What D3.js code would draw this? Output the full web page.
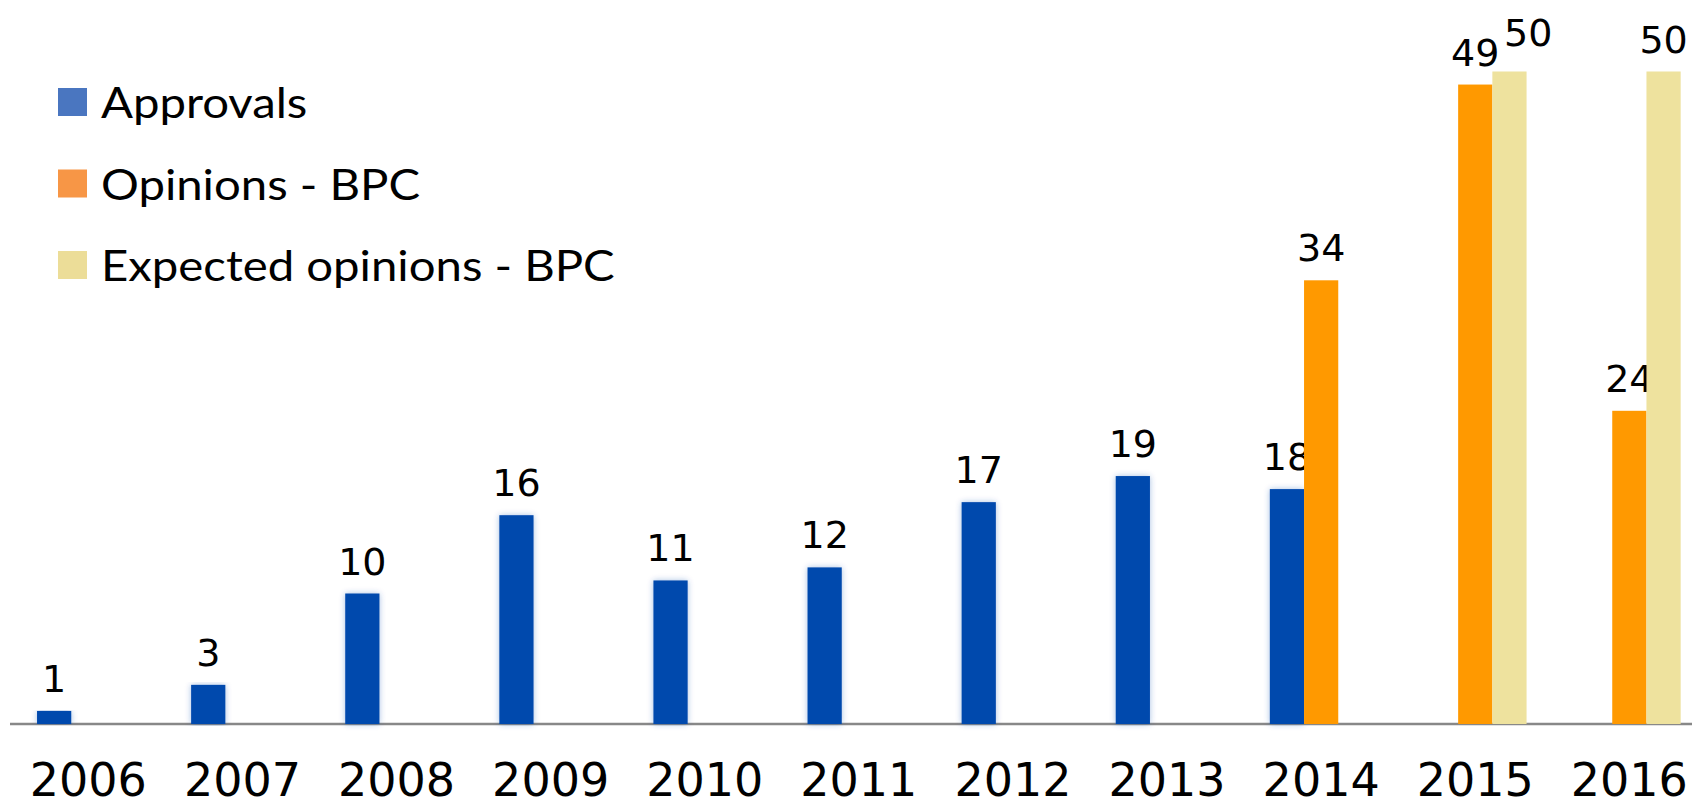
<!DOCTYPE html>
<html><head><meta charset="utf-8">
<script src="https://cdn.jsdelivr.net/npm/d3@7"></script>
<style>html,body{margin:0;padding:0;background:#fff;overflow:hidden}</style>
</head><body>
<svg id="chart" width="1692" height="808"></svg>
<script>
const years = ["2006","2007","2008","2009","2010","2011","2012","2013","2014","2015","2016"];
const approvals = [1,3,10,16,11,12,17,19,18,null,null];
const opinionsBPC = [null,null,null,null,null,null,null,null,34,49,24];
const expectedBPC = [null,null,null,null,null,null,null,null,null,50,50];
const seriesNames = ["Approvals","Opinions - BPC","Expected opinions - BPC"];
const barColors = ["#0248AD","#FF9900","#EEE29E"];
const legendColors = ["#4A76C0","#F79646","#ECDD98"];

const W = 1692, H = 808;
const svg = d3.select("#chart");
const defs = svg.append("defs");
const f = defs.append("filter").attr("id","glow").attr("x","-40%").attr("y","-5%").attr("width","180%").attr("height","110%");
f.append("feGaussianBlur").attr("in","SourceGraphic").attr("stdDeviation","3").attr("result","b");
f.append("feComponentTransfer").attr("in","b").attr("result","c")
  .append("feFuncA").attr("type","linear").attr("slope","0.35");
const fm = f.append("feMerge");
fm.append("feMergeNode").attr("in","c");
fm.append("feMergeNode").attr("in","SourceGraphic");

const baseY = 724;
const x0 = d3.scaleBand().domain(years).range([11.3, 1706.4]).paddingInner(0.334).paddingOuter(0.167);
const x1 = d3.scaleBand().domain(seriesNames).range([0, x0.bandwidth()]);
const y = d3.scaleLinear().domain([0, 50]).range([baseY, baseY - 652.5]);

const seriesData = [approvals, opinionsBPC, expectedBPC];

// axis line
svg.append("line").attr("x1",10).attr("x2",W).attr("y1",baseY).attr("y2",baseY)
  .attr("stroke","#888").attr("stroke-width",2.5);

seriesData.forEach((vals, si) => {
  const name = seriesNames[si];
  const data = years.map((yr,i)=>({yr, v: vals[i], i})).filter(d => d.v != null);
  const g = svg.append("g");
  g.selectAll("rect").data(data).enter().append("rect")
    .attr("x", d => x0(d.yr) + x1(name))
    .attr("y", d => y(d.v))
    .attr("width", x1.bandwidth())
    .attr("height", d => baseY - y(d.v))
    .attr("fill", barColors[si])
    .attr("filter", si === 0 ? "url(#glow)" : null);
  g.selectAll("text").data(data).enter().append("text")
    .attr("x", d => {
      let cx = x0(d.yr) + x1(name) + x1.bandwidth()/2;
      // dodge when neighbouring label in same group has nearly same height
      if (si === 2 && opinionsBPC[d.i] != null && Math.abs(opinionsBPC[d.i] - d.v) < 3) cx += x1.bandwidth()*0.55;
      return cx;
    })
    .attr("y", d => {
      let ty = y(d.v) - 19;
      if (si === 2 && opinionsBPC[d.i] != null && Math.abs(opinionsBPC[d.i] - d.v) < 3) ty -= 7;
      return ty;
    })
    .attr("text-anchor","middle")
    .attr("font-family","'DejaVu Sans', Verdana, sans-serif")
    .attr("font-size", 38)
    .attr("fill","#000")
    .text(d => d.v);
});

// year labels
svg.append("g").selectAll("text").data(years).enter().append("text")
  .attr("x", d => x0(d) + x0.bandwidth()/2)
  .attr("y", 796)
  .attr("text-anchor","middle")
  .attr("font-family","'DejaVu Sans', Verdana, sans-serif")
  .attr("font-size", 46)
  .attr("fill","#000")
  .text(d => d);

// legend
const leg = svg.append("g");
seriesNames.forEach((n, i) => {
  const ly = 118 + i * 81.5;
  leg.append("rect").attr("x",58).attr("y",ly-30).attr("width",29).attr("height",28).attr("fill",legendColors[i]);
  leg.append("text").attr("transform",`translate(101,${ly}) scale(1.1,1)`)
    .attr("font-family","Lato, 'Noto Sans', sans-serif")
    .attr("font-size",43).attr("fill","#000").text(n);
});
</script>
</body></html>
